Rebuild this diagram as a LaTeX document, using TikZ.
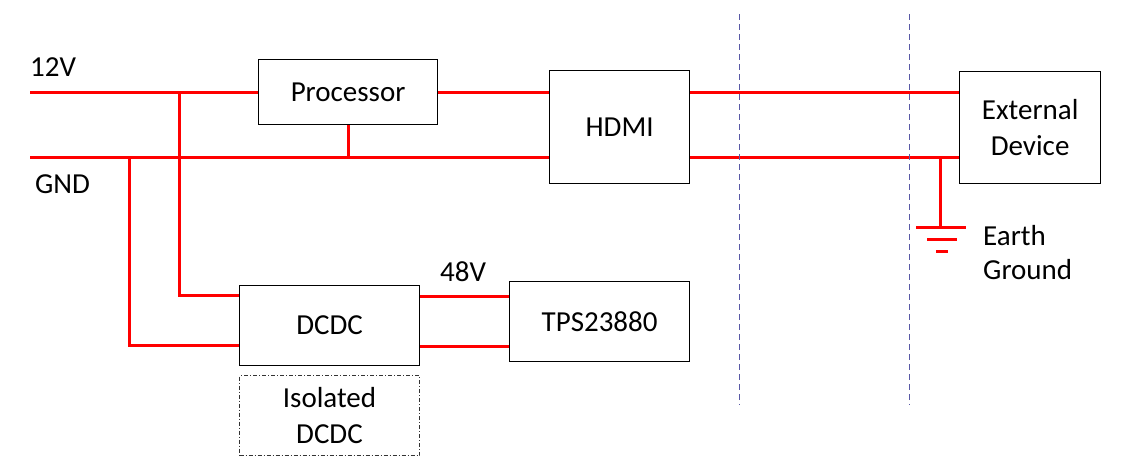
\documentclass[tikz,border=0pt]{standalone}
\usepackage{fontspec}
\setmainfont{Carlito}
\begin{document}
\begin{tikzpicture}[x=1pt,y=-1pt,
  blk/.style={draw=black,line width=1.2pt,fill=white,inner sep=0pt,anchor=north west,align=center,font=\fontsize{29}{36}\selectfont},
  wire/.style={draw=red,line width=3pt},
  sep/.style={draw=gray!70!blue,line width=1pt,dashed,dash pattern=on 6pt off 4pt},
  lbl/.style={font=\fontsize{29}{34}\selectfont,inner sep=0pt,align=left}]
\useasboundingbox (0,0) rectangle (1126,471);
% boxes
\node[blk,minimum width=179pt,minimum height=65pt] (proc) at (258,59) {Processor};
\node[blk,minimum width=140pt,minimum height=113pt] (hdmi) at (549,70) {HDMI};
\node[blk,minimum width=141pt,minimum height=112pt] (ext) at (959,71) {External\\Device};
\node[blk,minimum width=180pt,minimum height=80pt] (dcdc) at (239,285) {DCDC};
\node[blk,minimum width=180pt,minimum height=80pt] (tps) at (509,281) {TPS23880};
\node[blk,draw=black!80,line width=1pt,dash pattern=on 4pt off 2pt on 1pt off 2pt,minimum width=180pt,minimum height=80pt] (iso) at (239,375) {Isolated\\DCDC};
% coordinates
\coordinate (v12) at (30,92);
\coordinate (gnd) at (30,157);
\coordinate (j1) at (179,92);
\coordinate (j2) at (129,157);
\coordinate (j3) at (348,157);
\coordinate (j4) at (940,157);
\coordinate (eg) at (940,227);
% wires
\draw[wire] (v12) -- (proc.west |- v12);
\draw[wire] (proc.east |- v12) -- (hdmi.west |- v12);
\draw[wire] (gnd) -- (hdmi.west |- gnd);
\draw[wire] (proc.south -| j3) -- (j3);
\draw[wire] (j1) -- (179,295) -- (dcdc.west |- 0,295);
\draw[wire] (j2) -- (129,345) -- (dcdc.west |- 0,345);
\draw[wire] (dcdc.east |- 0,296) -- (tps.west |- 0,296);
\draw[wire] (dcdc.east |- 0,346) -- (tps.west |- 0,346);
\draw[wire] (hdmi.east |- v12) -- (ext.west |- v12);
\draw[wire] (hdmi.east |- gnd) -- (ext.west |- gnd);
\draw[wire] (j4) -- (eg);
\draw[wire] (916,227) -- (966,227);
\draw[wire] (927,239) -- (957,239);
\draw[wire] (936,251) -- (948,251);
% separators
\draw[sep] (739,14) -- (739,405);
\draw[sep] (909,14) -- (909,405);
% labels
\node[lbl,anchor=west] (l12) at (30,67) {12V};
\node[lbl,anchor=west] (lg) at (35,184) {GND};
\node[lbl,anchor=west] (l48) at (440,272) {48V};
\node[lbl,anchor=west] (le) at (983,253) {Earth\\Ground};
\end{tikzpicture}
\end{document}
